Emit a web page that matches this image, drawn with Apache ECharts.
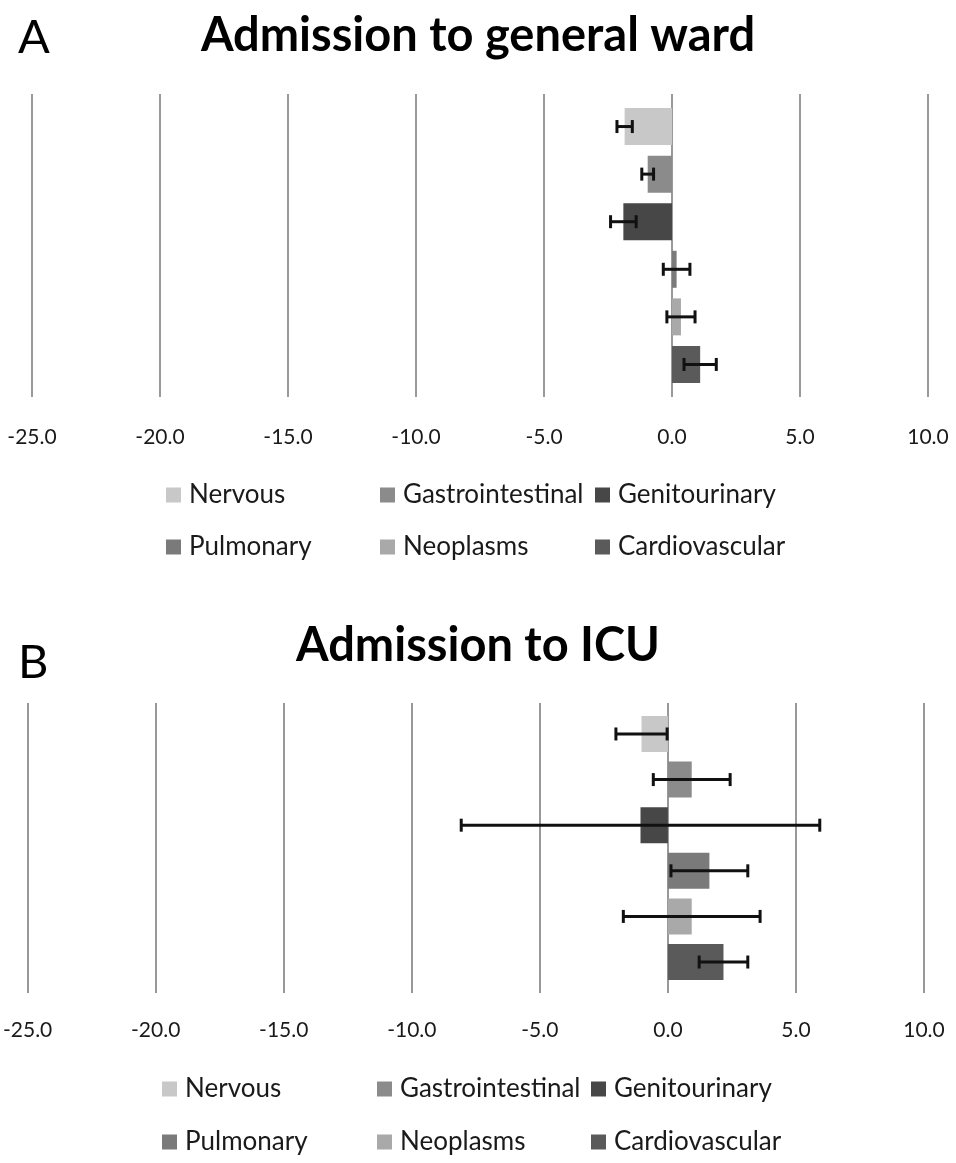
<!DOCTYPE html>
<html><head><meta charset="utf-8">
<script src="https://cdn.jsdelivr.net/npm/echarts@6/dist/echarts.min.js"></script>
<style>html,body{margin:0;padding:0;background:#fff}#c{width:956px;height:1163px}</style>
</head><body><div id="c"></div>
<script>
// ---- data ----
const categories = ['Nervous', 'Gastrointestinal', 'Genitourinary', 'Pulmonary', 'Neoplasms', 'Cardiovascular'];
const wardValues = [-1.85, -0.95, -1.9, 0.18, 0.35, 1.1];
const wardErrors = [0.3, 0.23, 0.5, 0.52, 0.55, 0.63];
const icuValues = [-1.03, 0.93, -1.07, 1.62, 0.93, 2.17];
const icuErrors = [1.0, 1.5, 7.0, 1.5, 2.67, 0.95];
const panelTitles = ['Admission to general ward', 'Admission to ICU'];
const panelLetters = ['A', 'B'];
const axisMin = -25, axisMax = 10, axisStep = 5;

// ---- styles ----
const colors = ['#c8c8c8', '#8b8b8b', '#474747', '#7a7a7a', '#a9a9a9', '#5a5a5a'];
const FONT = 'Lato';
const panels = [
  { values: wardValues, errors: wardErrors, grid: { left: 32, right: 28, top: 94, height: 303 }, barW: 37, gap: 0.286, labelMargin: 30,
    legendCols: [166, 380, 595], legendRows: [482, 534] },
  { values: icuValues, errors: icuErrors, grid: { left: 24.5, right: 32, top: 703, height: 290 }, barW: 36, gap: 0.267, labelMargin: 27,
    legendCols: [162, 377, 591], legendRows: [1076, 1129] }
];

function errorRenderer(barW, gapPct) {
  return function (params, api) {
    const v = api.value(0), e = api.value(2), i = api.value(3);
    const lo = api.coord([v - e, 0]);
    const hi = api.coord([v + e, 0]);
    const n = categories.length;
    const step = barW * (1 + gapPct);
    const total = n * step - barW * gapPct;
    const y = lo[1] - total / 2 + i * step + barW / 2;
    const cap = 6.5;
    const style = { stroke: '#111', lineWidth: 3 };
    return { type: 'group', children: [
      { type: 'line', shape: { x1: lo[0], y1: y, x2: hi[0], y2: y }, style: style },
      { type: 'line', shape: { x1: lo[0], y1: y - cap, x2: lo[0], y2: y + cap }, style: style },
      { type: 'line', shape: { x1: hi[0], y1: y - cap, x2: hi[0], y2: y + cap }, style: style }
    ] };
  };
}

const option = { backgroundColor: '#fff', animation: false, grid: [], xAxis: [], yAxis: [], series: [], legend: [], title: [] };

panels.forEach(function (p, k) {
  option.grid.push(p.grid);
  option.xAxis.push({
    type: 'value', gridIndex: k, min: axisMin, max: axisMax, interval: axisStep,
    axisLine: { show: false }, axisTick: { show: false },
    splitLine: { show: true, lineStyle: { color: '#999', width: 2 } },
    axisLabel: { margin: p.labelMargin, fontSize: 21, color: '#1a1a1a', fontFamily: FONT, formatter: function (v) { return v.toFixed(1); } }
  });
  option.yAxis.push({ type: 'category', gridIndex: k, data: [''], show: false });
  categories.forEach(function (name, i) {
    option.series.push({
      type: 'bar', name: name, xAxisIndex: k, yAxisIndex: k,
      data: [p.values[i]], barWidth: p.barW, barGap: (p.gap * 100) + '%',
      itemStyle: { color: colors[i] }
    });
  });
  option.series.push({
    type: 'custom', name: 'err' + k, xAxisIndex: k, yAxisIndex: k, z: 5,
    renderItem: errorRenderer(p.barW, p.gap),
    encode: { x: 0, y: 1 },
    data: p.values.map(function (v, i) { return [v, 0, p.errors[i], i]; })
  });
  categories.forEach(function (name, i) {
    option.legend.push({
      data: [name], left: p.legendCols[i % 3], top: p.legendRows[Math.floor(i / 3)],
      padding: 0, icon: 'rect', itemWidth: 15, itemHeight: 15, selectedMode: false,
      textStyle: { fontSize: 26, color: '#1a1a1a', fontFamily: FONT, padding: [0, 0, 0, 3] }
    });
  });
});

option.title = [
  { text: panelTitles[0], left: 'center', top: 7, textStyle: { fontSize: 47, fontWeight: 'bold', color: '#000', fontFamily: FONT } },
  { text: panelTitles[1], left: 'center', top: 617, textStyle: { fontSize: 47, fontWeight: 'bold', color: '#000', fontFamily: FONT } },
  { text: panelLetters[0], left: 13, top: 9, textStyle: { fontSize: 47, fontWeight: 'normal', color: '#000', fontFamily: FONT } },
  { text: panelLetters[1], left: 13, top: 634, textStyle: { fontSize: 47, fontWeight: 'normal', color: '#000', fontFamily: FONT } }
];

const chart = echarts.init(document.getElementById('c'), null, { renderer: 'canvas' });
chart.setOption(option);
</script>
</body></html>
